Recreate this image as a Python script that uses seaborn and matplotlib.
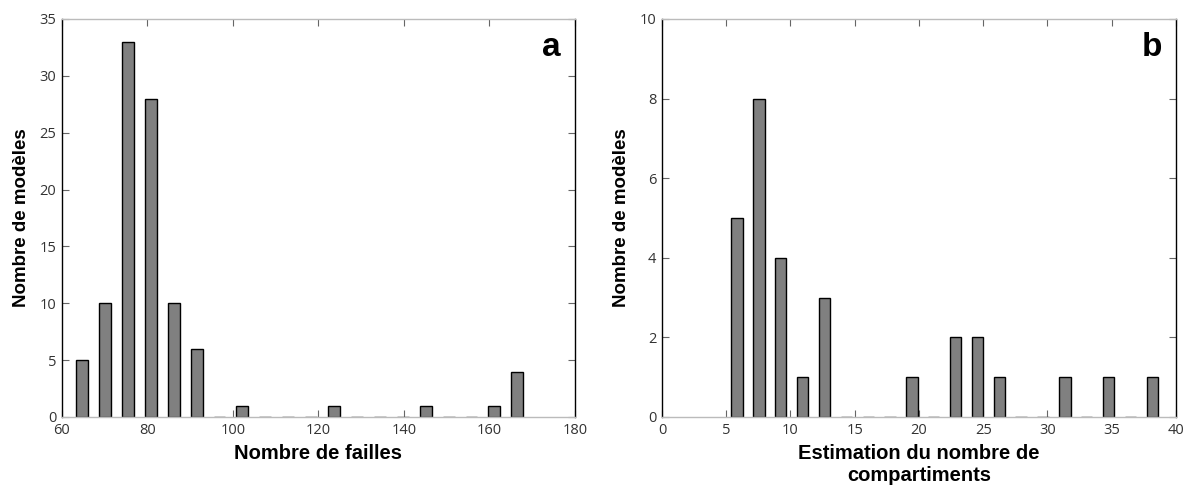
import numpy as np
import pandas as pd
import seaborn as sns
import matplotlib.pyplot as plt

# histogram a : number of faults per model (20 bins between 62 and 169.2)
failles_edges = list(np.linspace(62, 169.2, 21))
failles_counts = [5, 10, 33, 28, 10, 6, 0, 1, 0, 0,
                  0, 1, 0, 0, 0, 1, 0, 0, 1, 4]

# histogram b : estimated number of compartments (20 bins between 5 and 39)
comp_edges = list(np.linspace(5, 39, 21))
comp_counts = [5, 8, 4, 1, 3, 0, 0, 0, 1, 0,
               2, 2, 1, 0, 0, 1, 0, 1, 0, 1]

sns.set_style('ticks')
plt.rcParams['font.family'] = ['Open Sans', 'DejaVu Sans']
plt.rcParams['xtick.direction'] = 'in'
plt.rcParams['ytick.direction'] = 'in'

fig = plt.figure(figsize=(11.85, 4.88), dpi=100)
ax_a = fig.add_axes([0.0523, 0.1455, 0.4329, 0.8156])
ax_b = fig.add_axes([0.5586, 0.1455, 0.4338, 0.8156])


def hist_panel(ax, edges, counts, xlim, ylim, xticks, yticks, xlabel, letter):
    '''draws one of the two histograms from bin edges and counts'''
    e = np.asarray(edges)
    df = pd.DataFrame({'centre': (e[:-1] + e[1:]) / 2, 'n': counts})
    sns.histplot(data=df, x='centre', weights='n', bins=edges, shrink=0.52,
                 color='#808080', edgecolor='black', linewidth=1.0,
                 alpha=1, ax=ax)
    ax.set_xlim(*xlim)
    ax.set_ylim(*ylim)
    ax.set_xticks(xticks)
    ax.set_yticks(yticks)
    ax.tick_params(axis='both', which='major', length=5, width=0.8,
                   color='#666666', labelcolor='#333333', labelsize=10.5,
                   top=True, right=True, pad=4)
    for side in ['top', 'bottom']:
        ax.spines[side].set_color('#bbbbbb')
        ax.spines[side].set_linewidth(1.0)
    for side in ['left', 'right']:
        ax.spines[side].set_color('black')
        ax.spines[side].set_linewidth(1.0)
    ax.set_xlabel(xlabel, family='Liberation Sans', fontweight='bold',
                  fontsize=14.5, labelpad=5, linespacing=1.2, color='black')
    ax.set_ylabel('Nombre de modèles', family='Liberation Sans',
                  fontweight='bold', fontsize=13.5, labelpad=7, color='black')
    ax.text(0.973, 0.907, letter, transform=ax.transAxes, ha='right',
            va='baseline', family='Liberation Sans', fontweight='bold',
            fontsize=24, color='black')


hist_panel(ax_a, failles_edges, failles_counts, (60, 180), (0, 35),
           range(60, 181, 20), range(0, 36, 5), 'Nombre de failles', 'a')
hist_panel(ax_b, comp_edges, comp_counts, (0, 40), (0, 10),
           range(0, 41, 5), range(0, 11, 2),
           'Estimation du nombre de\ncompartiments', 'b')

plt.savefig('out.png', dpi=100)
